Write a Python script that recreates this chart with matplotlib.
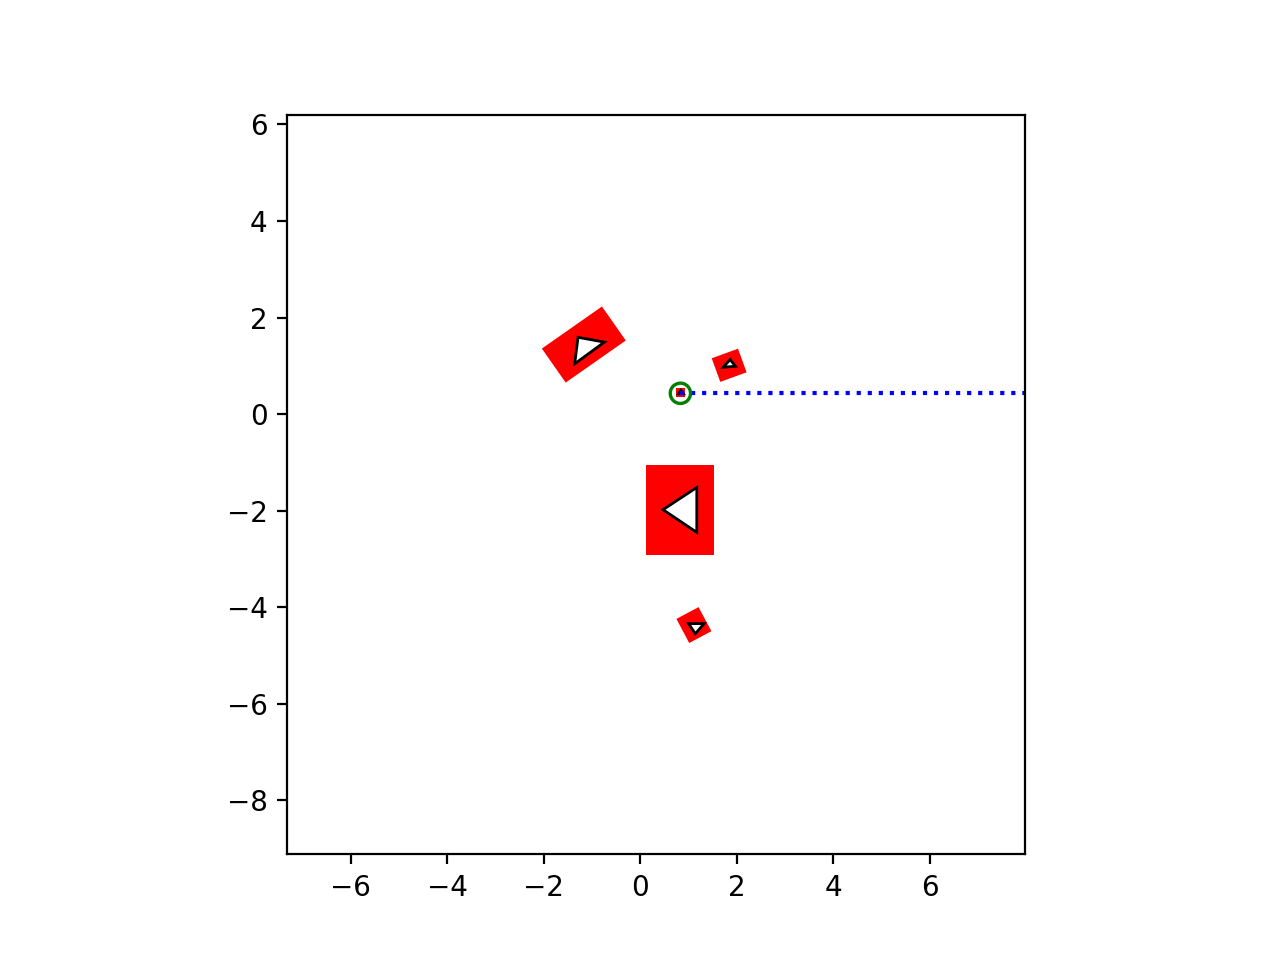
import numpy as np
import matplotlib.pyplot as plt
from matplotlib.patches import Rectangle, Polygon, Circle

# rectangulos: centro, ancho, alto, angulo (grados)
rect_cx = [-1.17, 1.84, 0.83, 1.11, 0.84]
rect_cy = [1.44, 1.01, -1.985, -4.37, 0.44]
rect_w = [1.52, 0.58, 1.41, 0.52, 0.19]
rect_h = [0.86, 0.52, 1.88, 0.565, 0.19]
rect_ang = [35, 20, 0, 28, 0]

# triangulos (vertices x, y)
tri_x = [
    [-1.29, -0.745, -1.36],
    [1.72, 1.86, 1.97],
    [0.47, 1.17, 1.17],
    [1.00, 1.32, 1.14],
    [0.79, 0.89, 0.84],
]
tri_y = [
    [1.59, 1.49, 1.04],
    [0.97, 1.13, 0.99],
    [-1.98, -1.52, -2.45],
    [-4.34, -4.34, -4.55],
    [0.42, 0.42, 0.49],
]

# punto objetivo y rayo
target = (0.83, 0.43)
target_r = 0.21
ray_end_x = 10.0

fig, ax = plt.subplots(figsize=(6.4, 4.8), dpi=200)

for cx, cy, w, h, a in zip(rect_cx, rect_cy, rect_w, rect_h, rect_ang):
    ax.add_patch(Rectangle((cx - w / 2, cy - h / 2), w, h, angle=a,
                           rotation_point='center', facecolor='red',
                           edgecolor='none'))

for xs, ys in zip(tri_x, tri_y):
    ax.add_patch(Polygon(np.column_stack([xs, ys]), closed=True,
                         facecolor='white', edgecolor='black', linewidth=1))

ax.plot([target[0], ray_end_x], [target[1], target[1]], ':', color='blue',
        linewidth=1.5)
ax.add_patch(Circle(target, target_r, fill=False, edgecolor='green',
                    linewidth=1.2, zorder=3))

ax.set_xlim(-7.32, 7.97)
ax.set_ylim(-9.12, 6.19)
ax.set_aspect('equal', adjustable='box')

fig.savefig('out.png', dpi=200)
